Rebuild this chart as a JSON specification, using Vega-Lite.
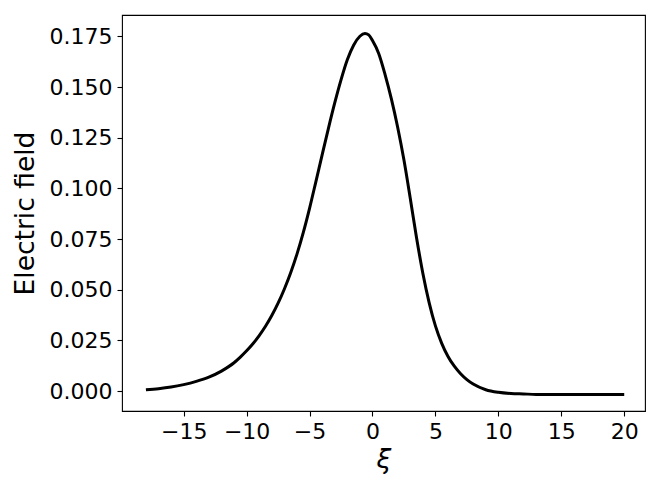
{
  "$schema": "https://vega.github.io/schema/vega-lite/v6.json",
  "autosize": "none",
  "width": 523,
  "height": 396,
  "padding": {"left": 122, "top": 15, "right": 19, "bottom": 87},
  "background": "white",
  "config": {
    "font": "DejaVu Sans",
    "view": {"stroke": "black", "strokeWidth": 1.1},
    "axis": {
      "grid": false,
      "domain": false,
      "tickColor": "black",
      "tickSize": 5,
      "tickWidth": 1.1,
      "labelColor": "black",
      "labelFont": "DejaVu Sans",
      "labelFontSize": 22,
      "labelPadding": 5,
      "titleColor": "black",
      "titleFont": "DejaVu Sans",
      "titleFontSize": 26.5,
      "titleFontWeight": "normal"
    }
  },
  "data": {
    "values": [
      {"xi": -18, "E": 0.0007},
      {"xi": -17, "E": 0.0012},
      {"xi": -16, "E": 0.0020},
      {"xi": -15, "E": 0.0032},
      {"xi": -14, "E": 0.0048},
      {"xi": -13, "E": 0.0069},
      {"xi": -12, "E": 0.0099},
      {"xi": -11, "E": 0.0140},
      {"xi": -10.5, "E": 0.0168},
      {"xi": -10, "E": 0.0199},
      {"xi": -9.5, "E": 0.0234},
      {"xi": -9, "E": 0.0274},
      {"xi": -8.5, "E": 0.0320},
      {"xi": -8, "E": 0.0373},
      {"xi": -7.5, "E": 0.0434},
      {"xi": -7, "E": 0.0504},
      {"xi": -6.5, "E": 0.0584},
      {"xi": -6, "E": 0.0676},
      {"xi": -5.5, "E": 0.0782},
      {"xi": -5, "E": 0.0902},
      {"xi": -4.5, "E": 0.1033},
      {"xi": -4, "E": 0.1166},
      {"xi": -3.5, "E": 0.1297},
      {"xi": -3, "E": 0.1422},
      {"xi": -2.5, "E": 0.1536},
      {"xi": -2, "E": 0.1635},
      {"xi": -1.5, "E": 0.1707},
      {"xi": -1, "E": 0.1751},
      {"xi": -0.6, "E": 0.1765},
      {"xi": -0.3, "E": 0.1758},
      {"xi": 0, "E": 0.1730},
      {"xi": 0.5, "E": 0.1665},
      {"xi": 1, "E": 0.1562},
      {"xi": 1.5, "E": 0.1442},
      {"xi": 2, "E": 0.1302},
      {"xi": 2.5, "E": 0.1140},
      {"xi": 3, "E": 0.0952},
      {"xi": 3.5, "E": 0.0757},
      {"xi": 4, "E": 0.0582},
      {"xi": 4.5, "E": 0.0437},
      {"xi": 5, "E": 0.0322},
      {"xi": 5.5, "E": 0.0236},
      {"xi": 6, "E": 0.0171},
      {"xi": 6.5, "E": 0.0123},
      {"xi": 7, "E": 0.0086},
      {"xi": 7.5, "E": 0.0057},
      {"xi": 8, "E": 0.0035},
      {"xi": 9, "E": 0.0007},
      {"xi": 10, "E": -0.0006},
      {"xi": 11, "E": -0.0012},
      {"xi": 12, "E": -0.0014},
      {"xi": 13, "E": -0.0016},
      {"xi": 15, "E": -0.0017},
      {"xi": 17.5, "E": -0.0017},
      {"xi": 20, "E": -0.0017}
    ]
  },
  "mark": {"type": "line", "color": "black", "strokeWidth": 3, "interpolate": "monotone", "clip": true},
  "encoding": {
    "x": {
      "field": "xi",
      "type": "quantitative",
      "title": "ξ",
      "scale": {"domain": [-19.9, 21.65], "nice": false, "zero": false},
      "axis": {"values": [-15, -10, -5, 0, 5, 10, 15, 20], "labelExpr": "replace(datum.label, '-', '−')", "titlePadding": 4, "titleFontStyle": "italic"}
    },
    "y": {
      "field": "E",
      "type": "quantitative",
      "title": "Electric field",
      "scale": {"domain": [-0.0098, 0.1856], "nice": false, "zero": false},
      "axis": {"values": [0, 0.025, 0.05, 0.075, 0.1, 0.125, 0.15, 0.175], "format": ".3f", "titlePadding": 10}
    }
  }
}
